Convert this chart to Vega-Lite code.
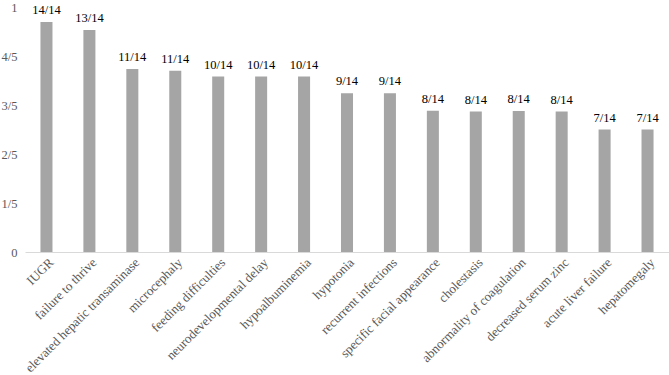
{
  "$schema": "https://vega.github.io/schema/vega-lite/v6.json",
  "width": 644,
  "height": 245,
  "autosize": {"type": "none"},
  "padding": {"left": 25, "top": 7, "right": 0, "bottom": 123},
  "background": "white",
  "config": {"view": {"stroke": null}, "font": "Liberation Serif"},
  "data": {
    "values": [
      {"feature": "IUGR", "value": 0.939, "label": "14/14"},
      {"feature": "failure to thrive", "value": 0.906, "label": "13/14"},
      {"feature": "elevated hepatic transaminase", "value": 0.747, "label": "11/14"},
      {"feature": "microcephaly", "value": 0.74, "label": "11/14"},
      {"feature": "feeding difficulties", "value": 0.716, "label": "10/14"},
      {"feature": "neurodevelopmental delay", "value": 0.716, "label": "10/14"},
      {"feature": "hypoalbuminemia", "value": 0.716, "label": "10/14"},
      {"feature": "hypotonia", "value": 0.648, "label": "9/14"},
      {"feature": "recurrent  infections", "value": 0.648, "label": "9/14"},
      {"feature": "specific facial appearance", "value": 0.577, "label": "8/14"},
      {"feature": "cholestasis", "value": 0.573, "label": "8/14"},
      {"feature": "abnormality of coagulation", "value": 0.576, "label": "8/14"},
      {"feature": "decreased serum zinc", "value": 0.573, "label": "8/14"},
      {"feature": "acute liver failure", "value": 0.5, "label": "7/14"},
      {"feature": "hepatomegaly", "value": 0.5, "label": "7/14"}
    ]
  },
  "encoding": {
    "x": {
      "field": "feature",
      "type": "nominal",
      "sort": null,
      "scale": {"paddingInner": 0.72, "paddingOuter": 0.36},
      "axis": {
        "title": null,
        "labelAngle": -45,
        "labelAlign": "right",
        "labelBaseline": "middle",
        "ticks": false,
        "labelPadding": 8,
        "labelOffset": 5,
        "labelFont": "Liberation Serif",
        "labelFontSize": 13,
        "labelColor": "#595959",
        "domainColor": "#d9d9d9",
        "domainWidth": 1,
        "labelLimit": 300
      }
    },
    "y": {
      "field": "value",
      "type": "quantitative",
      "scale": {"domain": [0, 1], "nice": false},
      "axis": {
        "title": null,
        "values": [0, 0.2, 0.4, 0.6, 0.8, 1],
        "labelExpr": "datum.value == 0 ? '0' : (datum.value == 1 ? '1' : round(datum.value * 5) + '/5')",
        "domain": false,
        "ticks": false,
        "grid": false,
        "labelPadding": 8,
        "labelFont": "Liberation Serif",
        "labelFontSize": 12.5,
        "labelColor": "#595959"
      }
    }
  },
  "layer": [
    {"mark": {"type": "bar", "color": "#a5a5a5"}},
    {
      "mark": {"type": "text", "baseline": "bottom", "dy": -5, "font": "Liberation Serif", "fontSize": 12.5, "color": "#000000"},
      "encoding": {"text": {"field": "label"}}
    }
  ]
}
